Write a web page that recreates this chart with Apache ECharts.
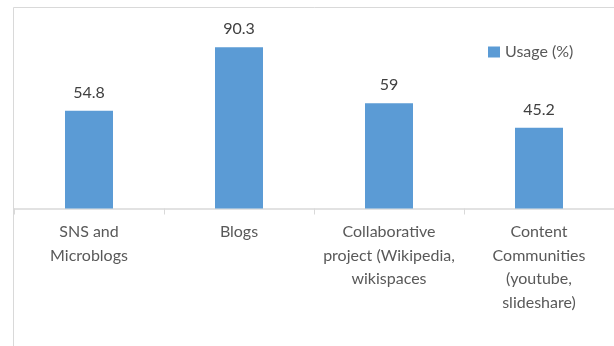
<!DOCTYPE html>
<html>
<head>
<meta charset="utf-8">
<script src="https://cdn.jsdelivr.net/npm/echarts@6/dist/echarts.min.js"></script>
<style>
html,body{margin:0;padding:0;background:#fff;}
#chart{width:614px;height:346px;}
</style>
</head>
<body>
<div id="chart"></div>
<script>
var categories = ["SNS and\nMicroblogs", "Blogs", "Collaborative\nproject (Wikipedia,\nwikispaces", "Content\nCommunities\n(youtube,\nslideshare)"];
var usage = [54.8, 90.3, 59, 45.2];
var seriesName = "Usage (%)";

var chart = echarts.init(document.getElementById('chart'), null, {renderer: 'canvas'});
chart.setOption({
  backgroundColor: '#ffffff',
  animation: false,
  textStyle: {fontFamily: 'Lato'},
  graphic: [{
    type: 'rect',
    silent: true,
    z: -1,
    shape: {x: 13.5, y: 7.5, width: 800, height: 500},
    style: {fill: 'none', stroke: '#d9d9d9', lineWidth: 1}
  }],
  legend: {
    show: true,
    left: 483,
    top: 39,
    itemWidth: 12,
    itemHeight: 11,
    itemGap: 10,
    textStyle: {fontFamily: 'Lato', fontSize: 16, color: '#595959', padding: [0, 0, 0, 0]},
    data: [{name: seriesName, icon: 'rect'}]
  },
  grid: {left: 14, width: 602, top: 30, height: 178.5, containLabel: false},
  xAxis: {
    type: 'category',
    data: categories,
    boundaryGap: true,
    axisLine: {show: true, lineStyle: {color: '#d9d9d9', width: 1.5}},
    axisTick: {show: true, length: 6, lineStyle: {color: '#d9d9d9', width: 1}},
    axisLabel: {
      interval: 0,
      margin: 12,
      fontFamily: 'Lato',
      fontSize: 16,
      lineHeight: 23.5,
      color: '#595959'
    },
    splitLine: {show: false}
  },
  yAxis: {
    type: 'value',
    min: 0,
    max: 100,
    show: false
  },
  series: [{
    name: seriesName,
    type: 'bar',
    data: usage,
    barWidth: 48,
    itemStyle: {color: '#5b9bd5'},
    label: {
      show: true,
      position: 'top',
      distance: 10,
      fontFamily: 'Lato',
      fontSize: 16,
      color: '#404040'
    }
  }]
});
</script>
</body>
</html>
